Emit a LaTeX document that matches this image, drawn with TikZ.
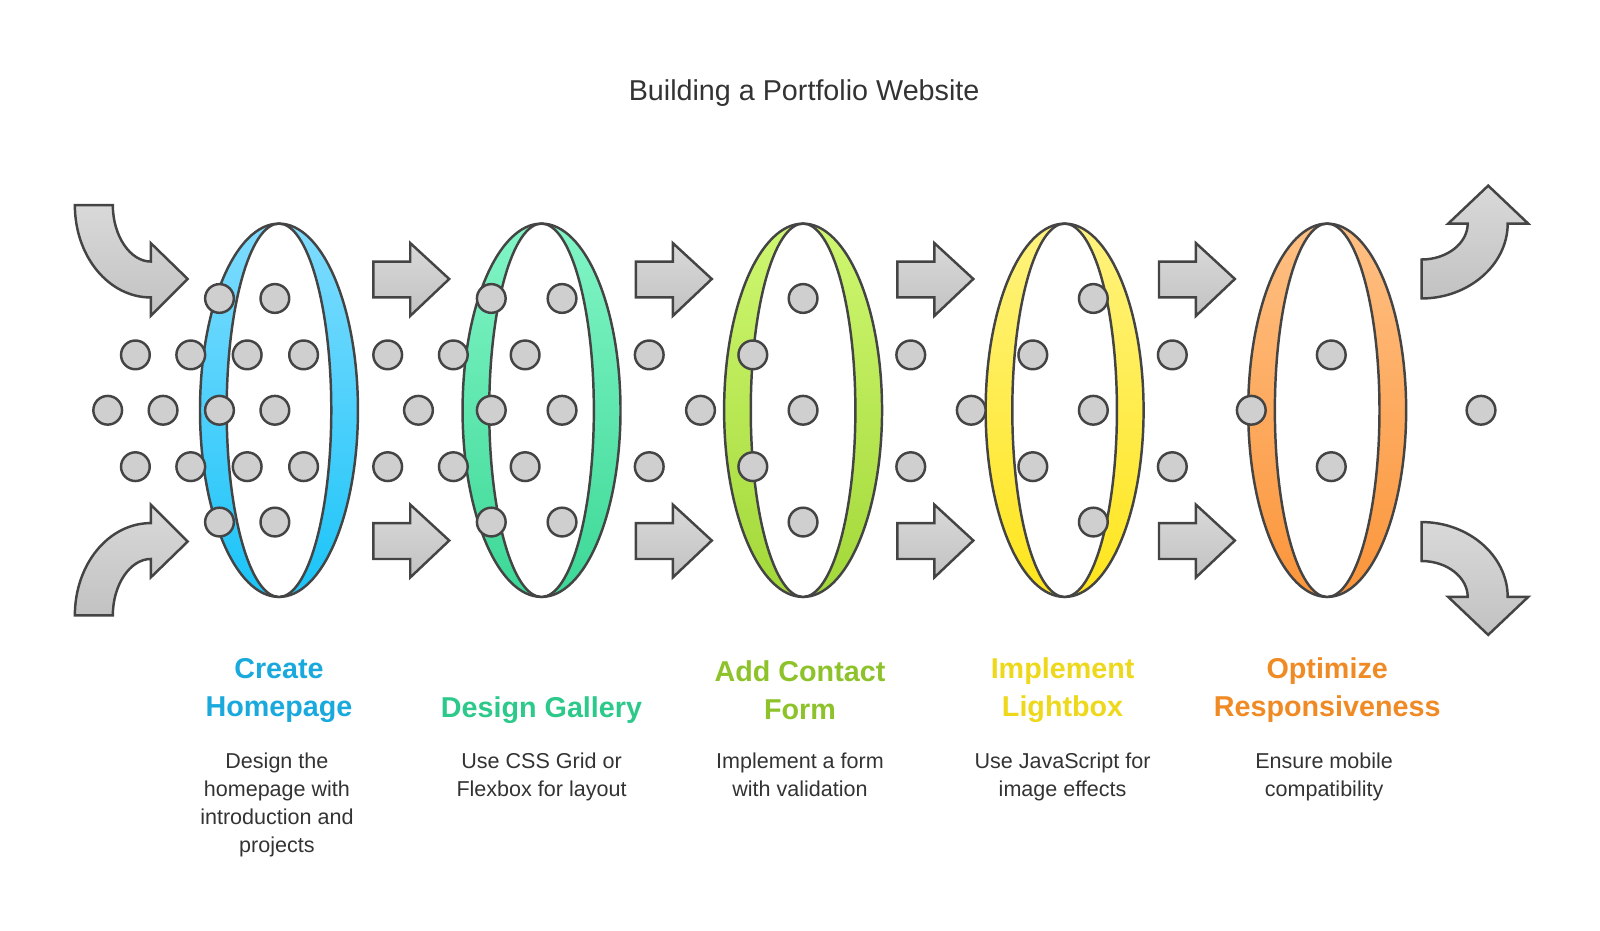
\documentclass[tikz,border=0pt]{standalone}
\usepackage{fontspec}
\setmainfont{Liberation Sans}
\usepackage{tikz}

\definecolor{edge}{HTML}{444444}
\definecolor{dotgray}{HTML}{CFCFCF}
\definecolor{arrT}{HTML}{D9D9D9}
\definecolor{arrB}{HTML}{C2C2C2}
\definecolor{blueT}{HTML}{80DCFF}
\definecolor{blueB}{HTML}{1AC4F8}
\definecolor{greenT}{HTML}{82F5C6}
\definecolor{greenB}{HTML}{3CD897}
\definecolor{limeT}{HTML}{CFF771}
\definecolor{limeB}{HTML}{A2D838}
\definecolor{yelT}{HTML}{FFF37E}
\definecolor{yelB}{HTML}{FFE51C}
\definecolor{orT}{HTML}{FFC084}
\definecolor{orB}{HTML}{FB953A}
\definecolor{blueH}{HTML}{1AA9DC}
\definecolor{greenH}{HTML}{2DC98A}
\definecolor{limeH}{HTML}{8DC22B}
\definecolor{yelH}{HTML}{EED81C}
\definecolor{orH}{HTML}{EF8A25}
\definecolor{txt}{HTML}{333333}

\tikzset{
  dot/.style={fill=dotgray,draw=edge,line width=1.2pt},
  grayarrow/.style={top color=arrT,bottom color=arrB,draw=edge,line width=1.2pt},
  heading/.style={font=\fontsize{14}{18.5}\selectfont\bfseries,align=center},
  desc/.style={font=\fontsize{10.5}{13.6}\selectfont,text=txt,align=center,anchor=north},
}

\begin{document}
\begin{tikzpicture}[x=0.5pt,y=0.5pt,yscale=-1,xscale=1]
\useasboundingbox (0,0) rectangle (1560,907);

% Title
\node (title) at (784,91) {\fontsize{14}{16}\selectfont\color{txt}Building a Portfolio Website};

% dots behind the rings
\foreach \px/\py in {323/400,572/346,572/455,828/346,828/455}
  \draw[dot] (\px,\py) circle (14);

% rings
\foreach \cx/\ctop/\cbot in {272/blueT/blueB,528/greenT/greenB,783/limeT/limeB,1038/yelT/yelB,1294/orT/orB}{
  \shade[top color=\ctop,bottom color=\cbot,draw=edge,line width=1.2pt] (\cx,400) ellipse [x radius=77,y radius=182];
  \filldraw[fill=white,draw=edge,line width=1.2pt] (\cx,400) ellipse [x radius=51,y radius=182];
}

% dots in front
\foreach \px/\py in {214/291,268/291,132/346,186/346,241/346,296/346,105/400,159/400,214/400,268/400,
  132/455,186/455,241/455,296/455,214/509,268/509,378/346,408/400,378/455,
  479/291,548/291,442/346,512/346,479/400,548/400,442/455,512/455,479/509,548/509,
  633/346,633/455,683/400,783/291,734/346,783/400,734/455,783/509,
  888/346,888/455,947/400,1066/291,1007/346,1066/400,1007/455,1066/509,
  1143/346,1143/455,1220/400,1298/346,1298/455,1444/400}
  \draw[dot] (\px,\py) circle (14);

% straight arrows
\foreach \ax in {364,620,875,1130}
  \foreach \ay in {272,527}
    \draw[grayarrow] (\ax,\ay-17) -- (\ax+36,\ay-17) -- (\ax+36,\ay-35) -- (\ax+74,\ay) -- (\ax+36,\ay+36) -- (\ax+36,\ay+18) -- (\ax,\ay+18) -- cycle;

% curved arrows in
\draw[grayarrow] (73,200) -- (110,200) .. controls (110,230) and (127,255) .. (147,255) -- (147,237) -- (183,272) -- (147,308) -- (147,290) .. controls (106,290) and (73,250) .. (73,200) -- cycle;
\draw[grayarrow] (73,600) -- (110,600) .. controls (110,570) and (127,545) .. (147,545) -- (147,563) -- (183,528) -- (147,492) -- (147,510) .. controls (106,510) and (73,550) .. (73,600) -- cycle;

% curved arrows out
\draw[grayarrow] (1386,291) -- (1386,253) .. controls (1411,253) and (1431,237) .. (1431,218) -- (1412,218) -- (1451,181) -- (1490,218) -- (1470,218) .. controls (1470,258) and (1432,291) .. (1386,291) -- cycle;
\draw[grayarrow] (1386,509) -- (1386,547) .. controls (1411,547) and (1431,563) .. (1431,582) -- (1412,582) -- (1451,619) -- (1490,582) -- (1470,582) .. controls (1470,542) and (1432,509) .. (1386,509) -- cycle;

% headings
\node[heading,text=blueH] (h1) at (272,673) {Create\\Homepage};
\node[heading,text=greenH] (h2) at (528,692) {Design Gallery};
\node[heading,text=limeH] (h3) at (780,673) {Add Contact\\Form};
\node[heading,text=yelH] (h4) at (1036,673) {Implement\\Lightbox};
\node[heading,text=orH] (h5) at (1294,673) {Optimize\\Responsiveness};

% descriptions
\node[desc] (d1) at (270,727) {Design the\\homepage with\\introduction and\\projects};
\node[desc] (d2) at (528,727) {Use CSS Grid or\\Flexbox for layout};
\node[desc] (d3) at (780,727) {Implement a form\\with validation};
\node[desc] (d4) at (1036,727) {Use JavaScript for\\image effects};
\node[desc] (d5) at (1291,727) {Ensure mobile\\compatibility};

\end{tikzpicture}
\end{document}
